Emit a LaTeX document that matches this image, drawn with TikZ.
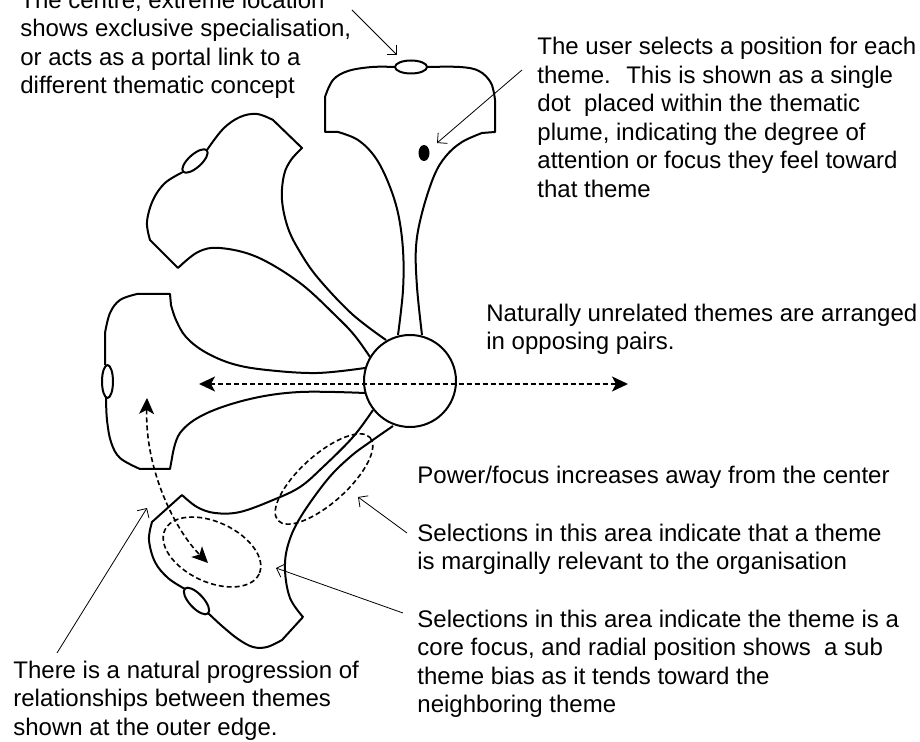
\documentclass[tikz,border=0pt]{standalone}
\usepackage{fontspec}
\setmainfont{Liberation Sans}
\usetikzlibrary{arrows.meta}

\begin{document}
\begin{tikzpicture}[x=0.5pt,y=-0.5pt,
  plume/.style={line width=1pt, line join=round},
  zone/.style={line width=0.8pt, dash pattern=on 2.5pt off 1.5pt},
  guide/.style={line width=0.8pt, dash pattern=on 2.5pt off 1.5pt,
    {Stealth[length=8pt,width=7.5pt,inset=2pt]}-{Stealth[length=8pt,width=7.5pt,inset=2pt]}},
  leader/.style={line width=0.4pt, -{Straight Barb[length=3.5pt,width=7pt]}},
  blurb/.style={font=\fontsize{12}{14.25}\selectfont, align=left, inner sep=0pt, anchor=base west}]
\useasboundingbox (0,0) rectangle (920,742);

% top plume
\draw[plume] plot[smooth,tension=.6] coordinates {(398,335) (403,290) (403,250) (398,213) (388,182) (375,157) (358,140) (338,132)}
  -- (325,132) -- (325,97)
  -- plot[smooth,tension=.6] coordinates {(325,97) (333,80) (348,71) (372,67) (395,67)};
\draw[plume] plot[smooth,tension=.6] coordinates {(427,67) (460,67) (479,71) (491,83) (495,100)}
  -- (495,132) -- (482,133)
  -- plot[smooth,tension=.6] coordinates {(482,133) (462,142) (446,156) (434,176) (422,213) (416,247) (417,287) (422,335)};
\draw[plume] (411,67) ellipse [x radius=16, y radius=6.5];
\fill (424,153) ellipse [x radius=5.5, y radius=8];

% upper left plume
\draw[plume] plot[smooth,tension=.6] coordinates {(386,340) (352,314) (318,278) (300,252) (288,228) (282,200) (284,175) (291,160) (302,148)}
  -- (273,120)
  -- plot[smooth,tension=.6] coordinates {(273,120) (257,114) (240,117) (223,129) (207,150)};
\draw[plume] plot[smooth,tension=.6] coordinates {(183,172) (165,183) (153,200) (147,222) (150,240)}
  -- (178,268)
  -- plot[smooth,tension=.6] coordinates {(178,268) (198,252) (220,248) (257,257) (300,283) (337,317) (355,336) (370,357)};
\draw[plume, rotate around={42:(195,161)}] (195,161) ellipse [x radius=16, y radius=6.5];

% left plume
\draw[plume] plot[smooth,tension=.6] coordinates {(365,368) (317,373) (267,370) (233,364) (205,352) (186,337) (176,320) (171,305)}
  -- (170,294) -- (137,294)
  -- plot[smooth,tension=.6] coordinates {(137,294) (120,300) (110,313) (105,333)} -- (105,365);
\draw[plume] plot[smooth,tension=.6] coordinates {(106,398) (107,420) (111,442) (120,458) (140,469)}
  -- (170,469) -- (172,458)
  -- plot[smooth,tension=.6] coordinates {(172,458) (180,433) (205,414) (250,399) (300,392) (365,393)};
\draw[plume] (107.5,381.5) ellipse [x radius=5.5, y radius=16.5];

% bottom plume
\draw[plume] plot[smooth,tension=.6] coordinates {(373,410) (353,437) (323,467) (300,487) (273,500) (240,512) (215,513) (197,507) (182,495)}
  -- (152,522)
  -- plot[smooth,tension=.6] coordinates {(152,522) (149,540) (155,562) (168,578) (185,589)};
\draw[plume] plot[smooth,tension=.6] coordinates {(208,613) (222,626) (238,639) (253,647) (267,647) (282,640)}
  -- (303,617)
  -- plot[smooth,tension=.6] coordinates {(303,617) (290,598) (285,570) (288,545) (300,518) (327,480) (350,457) (370,442) (393,426)};
\draw[plume, rotate around={-47:(196.5,601)}] (196.5,601) ellipse [x radius=17, y radius=7];

% centre
\draw[plume] (410,381) circle [radius=46];

% zones
\draw[zone, rotate around={-25:(212,552)}] (212,552) ellipse [x radius=52, y radius=30];
\draw[zone, rotate around={42:(324,479)}] (324,479) ellipse [x radius=62, y radius=24];

% opposing pairs and progression
\coordinate (west) at (199,384);
\coordinate (east) at (628,384);
\draw[guide] (west) -- (east);
\coordinate (upper) at (147,398);
\coordinate (lower) at (208,563);
\draw[guide] (upper) .. controls (145,470) and (175,530) .. (lower);

% notes (anchored at the baseline of the last line)
\node[blurb] (centretext) at (20,94) {The centre, extreme location\\shows exclusive specialisation,\\or acts as a portal link to a\\different thematic concept};
\node[blurb] (usertext) at (537,197.5) {The user selects a position for each\\theme.~ This is shown as a single\\dot~ placed within the thematic\\plume, indicating the degree of\\attention or focus they feel toward\\that theme};
\node[blurb] (pairstext) at (486,350) {Naturally unrelated themes are arranged\\in opposing pairs.};
\node[blurb] (powertext) at (417,483) {Power/focus increases away from the center};
\node[blurb] (margtext) at (417,569.5) {Selections in this area indicate that a theme\\is marginally relevant to the organisation};
\node[blurb] (coretext) at (417,712.5) {Selections in this area indicate the theme is a\\core focus, and radial position shows~ a sub\\theme bias as it tends toward the\\neighboring theme};
\node[blurb] (edgetext) at (13,735) {There is a natural progression of\\relationships between themes\\shown at the outer edge.};

% leaders
\coordinate (portal) at (397,55);
\coordinate (dot) at (437,143);
\coordinate (rim) at (147,508);
\coordinate (inner) at (358,497);
\coordinate (outer) at (276,568);
\draw[leader] (352,10) -- (portal);
\draw[leader] (522,70) -- (dot);
\draw[leader] (57,653) -- (rim);
\draw[leader] (407,533) -- (inner);
\draw[leader] (403,613) -- (outer);
\end{tikzpicture}
\end{document}
